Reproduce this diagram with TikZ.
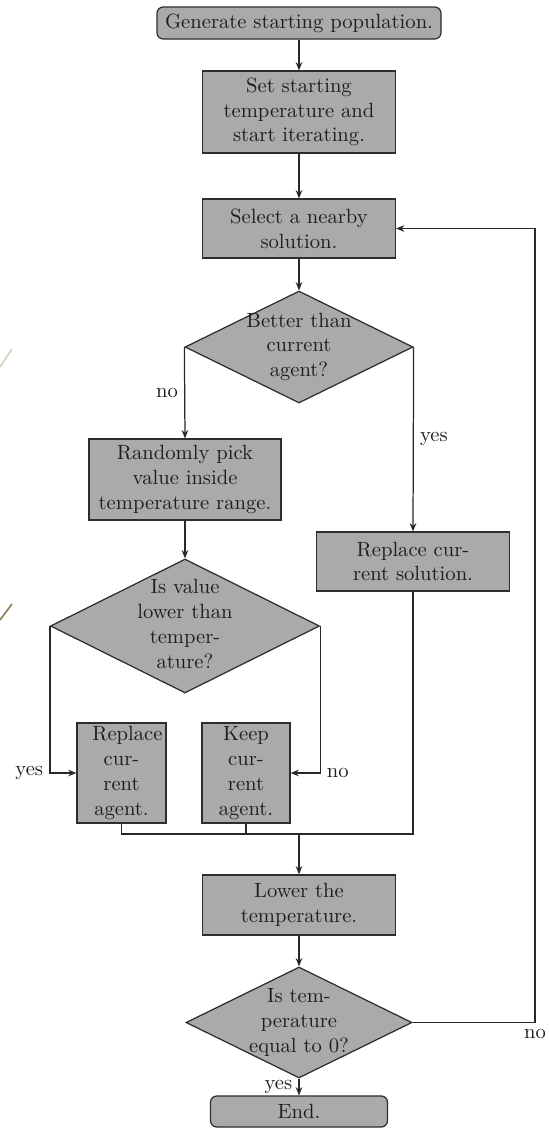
\documentclass[tikz,border=0pt]{standalone}
\usetikzlibrary{shapes.geometric,arrows.meta}
\newcommand{\pxu}{0.485pt}
\newcommand{\dmtext}[1]{\smash{\raisebox{-2.5pt}{\begin{tabular}{@{}c@{}}#1\end{tabular}}}}
\definecolor{boxfill}{RGB}{170,170,170}
\definecolor{bordercol}{RGB}{45,45,45}
\definecolor{linecol}{RGB}{40,40,40}
\definecolor{textcol}{RGB}{30,30,30}
\definecolor{strayA}{RGB}{215,208,190}
\definecolor{strayB}{RGB}{140,125,85}
\begin{document}
\begin{tikzpicture}[x=\pxu,y=-\pxu,
  box/.style={draw=bordercol, fill=boxfill, line width=0.6pt, inner sep=0pt, text=textcol},
  procbox/.style={box, rectangle, align=center},
  termbox/.style={box, rectangle, rounded corners=3pt, align=center},
  decision/.style={box, diamond},
  conn/.style={draw=linecol, line width=0.6pt},
  arr/.style={conn, -{Stealth[length=4pt,width=3.2pt]}},
  trunk/.style={arr, line width=0.9pt},
  lab/.style={inner sep=3pt, text=textcol}]
\useasboundingbox (0,0) rectangle (548,1128);

% faint stray strokes at the left edge
\draw[strayA, line width=0.8pt] (0,367) -- (12,349);
\draw[strayB, line width=0.8pt] (0,620) -- (12,604);

\node[termbox, minimum width=284*\pxu, minimum height=32*\pxu] (start) at (299,23) {Generate starting population.};
\node[procbox, minimum width=193*\pxu, minimum height=82*\pxu] (set) at (299,112) {Set starting\\temperature and\\start iterating.};
\node[procbox, minimum width=193*\pxu, minimum height=59*\pxu] (sel) at (299,228.5) {Select a nearby\\solution.};
\node[decision, minimum width=228*\pxu, minimum height=112*\pxu] (d1) at (299,347) {\dmtext{Better than\\current\\agent?}};
\node[procbox, minimum width=192*\pxu, minimum height=81*\pxu] (rand) at (185,479.5) {Randomly pick\\value inside\\temperature range.};
\node[procbox, minimum width=193*\pxu, minimum height=59*\pxu] (repsol) at (413,561.5) {Replace cur-\\rent solution.};
\node[decision, minimum width=269*\pxu, minimum height=134*\pxu] (d2) at (185,626) {\dmtext{Is value\\lower than\\temper-\\ature?}};
\node[procbox, minimum width=89*\pxu, minimum height=100*\pxu] (repag) at (121.5,773) {\hspace*{5.8pt}Replace\\cur-\\rent\\agent.};
\node[procbox, minimum width=88*\pxu, minimum height=100*\pxu] (keep) at (246,773) {Keep\\cur-\\rent\\agent.};
\node[procbox, minimum width=193*\pxu, minimum height=60*\pxu] (lower) at (299,905) {Lower the\\temperature.};
\node[decision, minimum width=226*\pxu, minimum height=111*\pxu] (d3) at (299,1022.5) {\dmtext{Is tem-\\perature\\equal to 0?}};
\node[termbox, minimum width=177*\pxu, minimum height=31*\pxu] (end) at (299,1111.5) {End.};

\coordinate (j) at (299,834);
\coordinate (fbc) at (535,1022.5);

\draw[trunk] (start) -- (set);
\draw[trunk] (set) -- (sel);
\draw[trunk] (sel) -- (d1);
\draw[arr] (d1.west) -- node[lab,left]{no} (rand.north);
\draw[arr] (d1.east) -- node[lab,right]{yes} (repsol.north);
\draw[trunk] (rand) -- (d2);
\draw[arr] (d2.west) |- node[lab,left,pos=0.5]{yes} (repag.west);
\draw[arr] (d2.east) |- node[lab,right,pos=0.5]{no} (keep.east);
\draw[conn] (repag.south) |- (j);
\draw[conn] (keep.south) |- (j);
\draw[conn] (repsol.south) |- (j);
\draw[trunk] (j) -- (lower.north);
\draw[trunk] (lower) -- (d3);
\draw[arr] (d3.south) -- node[lab,left]{yes} (end.north);
\draw[arr, line width=0.8pt] (d3.east) -- (fbc) node[lab,below]{no} |- (sel.east);
\end{tikzpicture}
\end{document}
